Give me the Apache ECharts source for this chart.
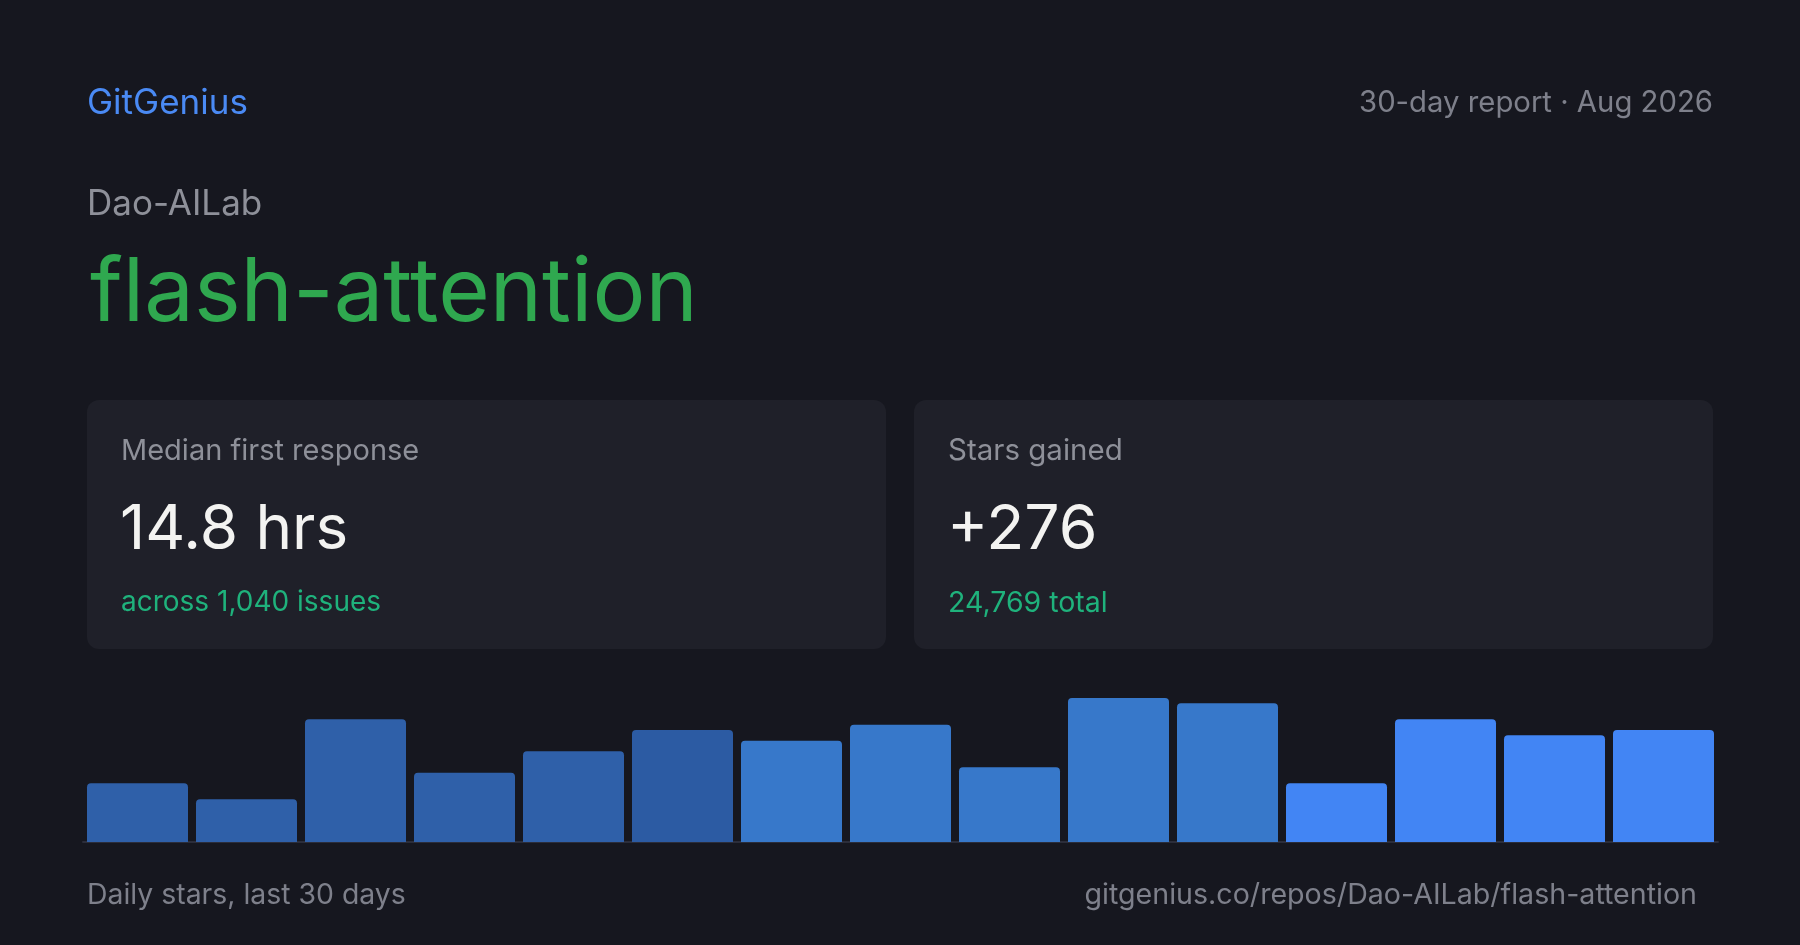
<!DOCTYPE html>
<html>
<head>
<meta charset="utf-8">
<script src="https://cdn.jsdelivr.net/npm/echarts@6/dist/echarts.min.js"></script>
<style>
html,body{margin:0;padding:0;background:#16171f;}
#c{width:1800px;height:945px;}
</style>
</head>
<body>
<div id="c"></div>
<script>
// ---- data ----
const days = ['D1','D2','D3','D4','D5','D6','D7','D8','D9','D10','D11','D12','D13','D14','D15'];
const dailyStars = [11, 8, 23, 13, 17, 21, 19, 22, 14, 27, 26, 11, 23, 20, 21];
const barColors = ['#2f60a9','#2f60a9','#2f60a9','#2f60a9','#2f60a9','#2c5ba3',
                   '#3778ca','#3778ca','#3778ca','#3778ca','#3778ca',
                   '#4285f4','#4285f4','#4285f4','#4285f4'];
const brand = 'GitGenius';
const reportLabel = '30-day report · Aug 2026';
const owner = 'Dao-AILab';
const repo = 'flash-attention';
const cardLabels = ['Median first response', 'Stars gained'];
const cardValues = ['14.8 hrs', '+276'];
const cardSubs = ['across 1,040 issues', '24,769 total'];
const footerLeft = 'Daily stars, last 30 days';
const footerRight = 'gitgenius.co/repos/Dao-AILab/flash-attention';

const FONT = 'Inter, "Noto Sans", sans-serif';
const chart = echarts.init(document.getElementById('c'), null, {renderer:'canvas'});

function txt(x, y, text, size, color, align, weight){
  return {type:'text', x:x, y:y, style:{text:text, fontFamily:FONT, fontSize:size, fill:color,
    align:align||'left', verticalAlign:'middle', fontWeight:weight||400}};
}
const cardX = [87, 914];
const labelSizes = [29, 29.5];
const valueSizes = [62, 62.5];
const subSizes = [28, 28.5];
const graphics = [];
cardX.forEach((cx, i) => {
  graphics.push({type:'rect', shape:{x:cx, y:400, width:799, height:249, r:12}, style:{fill:'#1f2029'}, z:0});
  graphics.push(txt(cx+34, 451, cardLabels[i], labelSizes[i], '#8e9099'));
  graphics.push(txt(cx+33, 530, cardValues[i], valueSizes[i], '#f3f3f1'));
  graphics.push(txt(cx+34, 603, cardSubs[i], subSizes[i], '#1fb27c'));
});
graphics.push(txt(87, 103, brand, 35, '#4a8af4'));
graphics.push(txt(1713, 103, reportLabel, 29.3, '#7e808b', 'right'));
graphics.push(txt(87, 204, owner, 35, '#8e9099'));
graphics.push(txt(90, 294, repo, 88.5, '#2fa84f'));
graphics.push(txt(87, 895, footerLeft, 28.4, '#7e808b'));
graphics.push(txt(1697, 895, footerRight, 28.6, '#7e808b', 'right'));

chart.setOption({
  backgroundColor:'#16171f',
  animation:false,
  grid:{left:83, right:82, top:698, bottom:103, containLabel:false},
  xAxis:{type:'category', data:days, axisLine:{show:true, lineStyle:{color:'#2b2d3a', width:2}},
    axisTick:{show:false}, axisLabel:{show:false}},
  yAxis:{type:'value', min:0, max:27, show:false, splitLine:{show:false}},
  series:[{type:'bar', data:dailyStars.map((v,i)=>({value:v, itemStyle:{color:barColors[i]}})),
    barWidth:101, itemStyle:{borderRadius:[4,4,0,0]}}],
  graphic:graphics
});
</script>
</body>
</html>
